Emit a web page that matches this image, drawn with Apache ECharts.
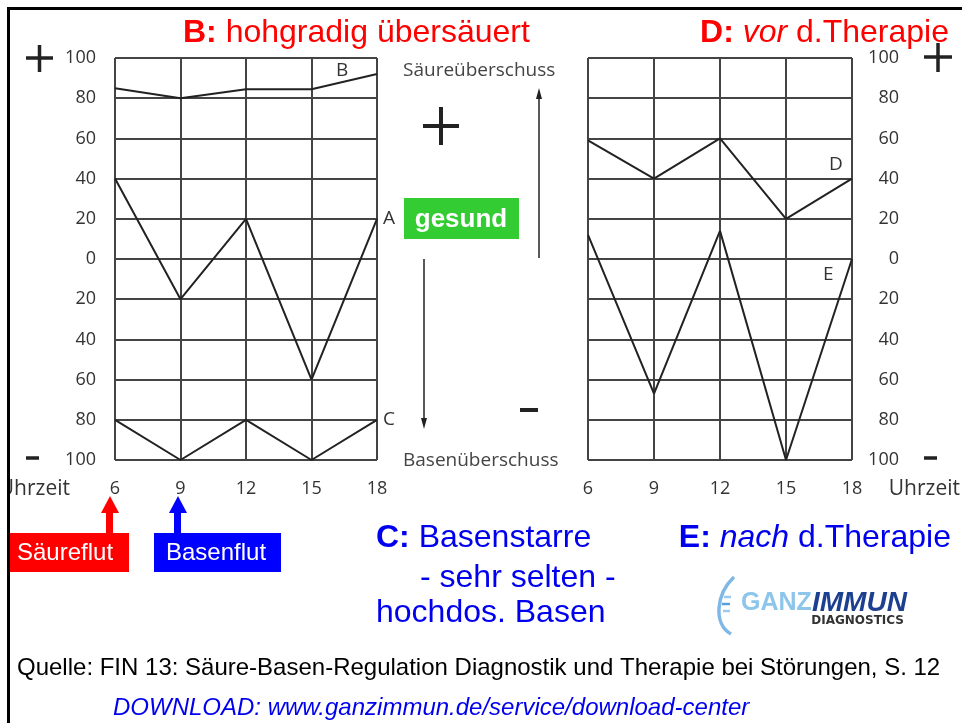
<!DOCTYPE html>
<html>
<head>
<meta charset="utf-8">
<script src="https://cdn.jsdelivr.net/npm/echarts@6/dist/echarts.min.js"></script>
<style>
  html, body { margin: 0; padding: 0; background: #fff; }
  #chart { width: 962px; height: 723px; }
</style>
</head>
<body>
<div id="chart"></div>
<script>
// Uhrzeit (x) und Säure/Basen-Kurven (y, + = Säure, - = Base)
var hours = [6, 9, 12, 15, 18];
var curveA = [40, -20, 20, -60, 20];
var curveB = [85, 80, 84.5, 84.5, 92];
var curveC = [-80, -100, -80, -100, -80];
var curveD = [59, 40, 60, 20, 40];
var curveE = [12, -67, 14, -100, 0];
var yMin = -100, yMax = 100, yStep = 20;

var SANS = 'Liberation Sans, Arial, sans-serif';
var MYRIAD = 'Open Sans, sans-serif';

function pairs(vals) {
    return hours.map(function (h, i) { return [h, vals[i]]; });
}

function curve(name, vals, grid, endName) {
    var s = {
        name: name,
        type: 'line',
        xAxisIndex: grid,
        yAxisIndex: grid,
        data: pairs(vals),
        symbol: 'none',
        silent: true,
        z: 5,
        lineStyle: { color: '#222', width: 2 }
    };
    if (endName) {
        s.endLabel = { show: true, formatter: endName, color: '#333', fontSize: 19, fontFamily: MYRIAD, distance: 6 };
    }
    return s;
}

function txt(x, y, text, size, color, extra) {
    var style = {
        x: x, y: y, text: text, fontSize: size, fontFamily: SANS, fill: color,
        textAlign: 'left', align: 'left', textVerticalAlign: 'middle', verticalAlign: 'middle'
    };
    for (var k in extra) style[k] = extra[k];
    if (style.textAlign) style.align = style.textAlign;
    return { type: 'text', z: 20, style: style };
}

function seg(x1, y1, x2, y2, w, color) {
    return { type: 'line', z: 20, shape: { x1: x1, y1: y1, x2: x2, y2: y2 }, style: { stroke: color || '#222', lineWidth: w } };
}

function box(x, y, w, h, color) {
    return { type: 'rect', z: 15, shape: { x: x, y: y, width: w, height: h }, style: { fill: color } };
}

function tri(points, color) {
    return { type: 'polygon', z: 20, shape: { points: points }, style: { fill: color } };
}

var chartDom = document.getElementById('chart');
var myChart = echarts.init(chartDom);

var xAxisCommon = function (i) {
    return {
        type: 'value', gridIndex: i, min: hours[0], max: hours[hours.length - 1], interval: 3,
        axisLine: { show: false }, axisTick: { show: false },
        axisLabel: { margin: 20, fontSize: 18, color: '#333', fontFamily: MYRIAD },
        splitLine: { show: true, lineStyle: { color: '#444', width: 2 } }
    };
};

var yAxisCommon = function (i) {
    return {
        type: 'value', gridIndex: i, min: yMin, max: yMax, interval: yStep,
        position: i === 0 ? 'left' : 'right',
        axisLine: { show: false }, axisTick: { show: false },
        axisLabel: {
            margin: i === 0 ? 19 : 47, align: 'right', fontSize: 18, color: '#333', fontFamily: MYRIAD,
            formatter: function (v) { return String(Math.abs(v)); }
        },
        splitLine: { show: true, lineStyle: { color: '#444', width: 2 } }
    };
};

var graphics = [
    // Titel oben
    txt(183, 33, '{b|B:} hohgradig übersäuert', 32, '#ff0000', { rich: { b: { fontWeight: 'bold', fontSize: 32, fontFamily: SANS, fill: '#ff0000' } } }),
    txt(949, 33, '{b|D:} {i|vor} d.Therapie', 32, '#ff0000', {
        textAlign: 'right',
        rich: { b: { fontWeight: 'bold', fontSize: 32, fontFamily: SANS, fill: '#ff0000' },
                i: { fontStyle: 'italic', fontSize: 32, fontFamily: SANS, fill: '#ff0000' } }
    }),
    // Plus / Minus
    seg(26, 58, 53, 58, 3.5), seg(39.5, 45, 39.5, 72, 3.5),
    seg(26, 458, 39, 458, 3.5),
    seg(924, 57, 952, 57, 3.5), seg(938, 43, 938, 72, 3.5),
    seg(924, 458, 937, 458, 3.5),
    seg(423, 126, 459, 126, 4), seg(441, 107, 441, 145, 4),
    seg(520, 410, 538, 410, 4),
    // Mittlere Pfeile
    seg(539, 258, 539, 96, 1.5), tri([[539, 88], [536, 99], [542, 99]], '#222'),
    seg(424, 259, 424, 420, 1.5), tri([[424, 429], [421, 418], [427, 418]], '#222'),
    txt(403, 71, 'Säureüberschuss', 19, '#444', { fontFamily: MYRIAD }),
    txt(403, 461, 'Basenüberschuss', 19, '#444', { fontFamily: MYRIAD }),
    // gesund
    box(404, 198, 115, 41, '#33cc33'),
    txt(461, 220, 'gesund', 26, '#fff', { textAlign: 'center', fontWeight: 'bold' }),
    // Kurvenbuchstaben
    txt(336, 71, 'B', 19, '#333', { fontFamily: MYRIAD }),
    txt(829, 165, 'D', 19, '#333', { fontFamily: MYRIAD }),
    txt(823, 275, 'E', 19, '#333', { fontFamily: MYRIAD }),
    // Uhrzeit
    txt(70, 489, 'Uhrzeit', 21, '#333', { textAlign: 'right', fontFamily: MYRIAD }),
    txt(960, 489, 'Uhrzeit', 21, '#333', { textAlign: 'right', fontFamily: MYRIAD }),
    // Säureflut / Basenflut
    box(9, 533, 120, 39, '#ff0000'),
    box(154, 533, 127, 39, '#0000ff'),
    txt(17, 553, 'Säureflut', 24, '#fff'),
    txt(166, 553, 'Basenflut', 24, '#fff'),
    box(106, 511, 7, 23, '#ff0000'), tri([[110, 496], [101, 513], [119, 513]], '#ff0000'),
    box(174, 511, 7, 23, '#0000ff'), tri([[178, 496], [169, 513], [187, 513]], '#0000ff'),
    // C / E Texte
    txt(376, 538, '{b|C:} Basenstarre', 32, '#0000ee', { rich: { b: { fontWeight: 'bold', fontSize: 32, fontFamily: SANS, fill: '#0000ee' } } }),
    txt(420, 578, '- sehr selten -', 32, '#0000ee'),
    txt(376, 613, 'hochdos. Basen', 32, '#0000ee'),
    txt(951, 538, '{b|E:} {i|nach} d.Therapie', 32, '#0000ee', {
        textAlign: 'right',
        rich: { b: { fontWeight: 'bold', fontSize: 32, fontFamily: SANS, fill: '#0000ee' },
                i: { fontStyle: 'italic', fontSize: 32, fontFamily: SANS, fill: '#0000ee' } }
    }),
    // Logo
    { type: 'bezierCurve', z: 20, shape: { x1: 734, y1: 577, cpx1: 716, cpy1: 594, cpx2: 713, cpy2: 624, x2: 731, y2: 634 },
      style: { stroke: '#7fb8e6', lineWidth: 3.5, fill: null } },
    seg(724, 597, 731, 597, 2.5, '#9cc9ec'), seg(722, 604, 730, 604, 2.5, '#5b9fd6'), seg(723, 611, 730, 611, 2.5, '#9cc9ec'),
    txt(741, 603, 'GANZ', 25, '#8ec5ea', { fontWeight: 'bold' }),
    txt(812, 603, 'IMMUN', 28, '#1d3f8f', { fontWeight: 'bold', fontStyle: 'italic' }),
    txt(904, 621, 'DIAGNOSTICS', 12, '#333', { textAlign: 'right', fontWeight: 'bold', fontFamily: 'DejaVu Sans' }),
    // Quelle
    txt(17, 668, 'Quelle: FIN 13: Säure-Basen-Regulation Diagnostik und Therapie bei Störungen, S. 12', 24, '#000'),
    txt(113, 708, 'DOWNLOAD: www.ganzimmun.de/service/download-center', 24, '#0000ee', { fontStyle: 'italic' }),
    // Rahmen
    { type: 'rect', z: 29, shape: { x: 0, y: 0, width: 8, height: 723 }, style: { fill: '#fff' } },
    { type: 'rect', z: 30, shape: { x: 8.5, y: 8.5, width: 1000, height: 800 }, style: { fill: null, stroke: '#000', lineWidth: 3 } }
];

var option = {
    animation: false,
    backgroundColor: '#fff',
    grid: [
        { left: 115, top: 58, width: 262, height: 402, outerBoundsMode: 'none' },
        { left: 588, top: 58, width: 264, height: 402, outerBoundsMode: 'none' }
    ],
    xAxis: [xAxisCommon(0), xAxisCommon(1)],
    yAxis: [yAxisCommon(0), yAxisCommon(1)],
    series: [
        curve('A', curveA, 0, 'A'),
        curve('B', curveB, 0),
        curve('C', curveC, 0, 'C'),
        curve('D', curveD, 1),
        curve('E', curveE, 1)
    ],
    graphic: graphics
};

option && myChart.setOption(option);

window.addEventListener('resize', function () {
    myChart.resize();
});
</script>
</body>
</html>
